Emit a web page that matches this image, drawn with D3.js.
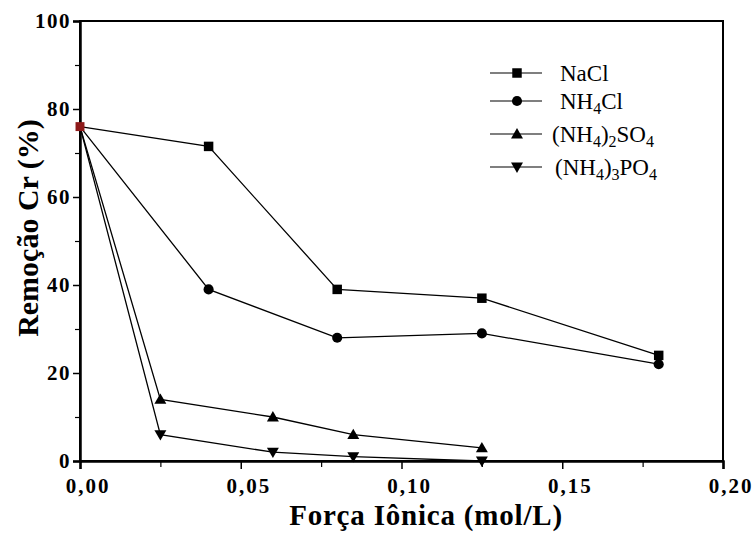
<!DOCTYPE html>
<html>
<head>
<meta charset="utf-8">
<script src="https://cdn.jsdelivr.net/npm/d3@7"></script>
<style>
  html, body { margin: 0; padding: 0; background: #fff; }
  svg { display: block; }
  svg text { font-family: "Times New Roman", "Liberation Serif", Tinos, "Nimbus Roman", Times, serif; fill: #000; }
</style>
</head>
<body>
<svg id="chart" width="754" height="539"></svg>
<script>
// Ionic strength (mol/L) for each salt
const xNaCl   = [0, 0.04, 0.08, 0.125, 0.18];
const xNH4Cl  = [0, 0.04, 0.08, 0.125, 0.18];
const xSulf   = [0, 0.025, 0.06, 0.085, 0.125];
const xPhos   = [0, 0.025, 0.06, 0.085, 0.125];

// Cr removal (%)
const yNaCl   = [76, 71.5, 39, 37, 24];
const yNH4Cl  = [76, 39, 28, 29, 22];
const ySulf   = [76, 14, 10, 6, 3];
const yPhos   = [76, 6, 2, 1, 0];

const xTicks = [0, 0.05, 0.10, 0.15, 0.20];
const xTickLabels = ["0,00", "0,05", "0,10", "0,15", "0,20"];
const yTicks = [0, 20, 40, 60, 80, 100];

const series = [
  { xs: xNaCl,  ys: yNaCl,  symbol: "square",  parts: [["NaCl", 0]] },
  { xs: xNH4Cl, ys: yNH4Cl, symbol: "circle",  parts: [["NH", 0], ["4", 1], ["Cl", 0]] },
  { xs: xSulf,  ys: ySulf,  symbol: "up",      parts: [["(NH", 0], ["4", 1], [")", 0], ["2", 1], ["SO", 0], ["4", 1]] },
  { xs: xPhos,  ys: yPhos,  symbol: "down",    parts: [["(NH", 0], ["4", 1], [")", 0], ["3", 1], ["PO", 0], ["4", 1]] }
];

const svg = d3.select("#chart");
const L = 80, R = 723, T = 21, B = 461;

const x = d3.scaleLinear().domain([0, 0.20]).range([L, R]);
const y = d3.scaleLinear().domain([0, 100]).range([B, T]);

function symbolPath(kind) {
  if (kind === "square") return d3.symbol(d3.symbolSquare, 90)();
  if (kind === "circle") return d3.symbol(d3.symbolCircle, 80)();
  return d3.symbol(d3.symbolTriangle, 62)();
}
function symbolTransform(kind, px, py) {
  if (kind === "up") return `translate(${px},${py + 1})`;
  if (kind === "down") return `translate(${px},${py - 1}) rotate(180)`;
  return `translate(${px},${py})`;
}

// Frame
svg.append("rect")
  .attr("x", L).attr("y", T).attr("width", R - L).attr("height", B - T)
  .attr("fill", "none").attr("stroke", "#000").attr("stroke-width", 2);

// Bottom axis: major ticks every 0.05, minor every 0.025
const xAxis = d3.axisBottom(x).tickValues(xTicks).tickSize(8).tickFormat("");
const gx = svg.append("g").attr("transform", `translate(0,${B})`).call(xAxis);
gx.select(".domain").attr("stroke-width", 2.5);
gx.selectAll(".tick line").attr("stroke-width", 1.5);
const xMinor = d3.axisBottom(x).tickValues(d3.range(0.025, 0.2, 0.05)).tickSize(6).tickFormat("");
const gxm = svg.append("g").attr("transform", `translate(0,${B})`).call(xMinor);
gxm.select(".domain").remove();
gxm.selectAll(".tick line").attr("stroke-width", 1.2);

svg.append("g").selectAll("text").data(xTicks).join("text")
  .attr("x", (d) => x(d) + 8).attr("y", 493)
  .attr("text-anchor", "middle")
  .attr("font-size", 21).attr("font-weight", "bold").attr("letter-spacing", 2)
  .text((d, i) => xTickLabels[i]);

// Left axis: major ticks every 20, minor every 10
const yAxis = d3.axisLeft(y).tickValues(yTicks).tickSize(7).tickFormat("");
const gy = svg.append("g").attr("transform", `translate(${L},0)`).call(yAxis);
gy.select(".domain").attr("stroke-width", 2.5);
gy.selectAll(".tick line").attr("stroke-width", 1.5);
const yMinor = d3.axisLeft(y).tickValues(d3.range(10, 100, 20)).tickSize(5).tickFormat("");
const gym = svg.append("g").attr("transform", `translate(${L},0)`).call(yMinor);
gym.select(".domain").remove();
gym.selectAll(".tick line").attr("stroke-width", 1.2);

svg.append("g").selectAll("text").data(yTicks).join("text")
  .attr("x", 71).attr("y", (d) => y(d) + 7)
  .attr("text-anchor", "end")
  .attr("font-size", 21).attr("font-weight", "bold").attr("letter-spacing", 1.5)
  .text((d) => d);

// Axis titles
svg.append("text")
  .attr("x", 426).attr("y", 525)
  .attr("text-anchor", "middle")
  .attr("font-size", 29).attr("font-weight", "bold").attr("letter-spacing", 0.8)
  .text("Força Iônica (mol/L)");

svg.append("text")
  .attr("transform", "translate(38,228) rotate(-90)")
  .attr("text-anchor", "middle")
  .attr("font-size", 30).attr("font-weight", "bold")
  .text("Remoção Cr (%)");

// Series lines and markers
const line = d3.line().x((d) => x(d[0])).y((d) => y(d[1]));
series.forEach((s) => {
  const pts = s.xs.map((v, i) => [v, s.ys[i]]);
  svg.append("path").datum(pts)
    .attr("d", line).attr("fill", "none")
    .attr("stroke", "#000").attr("stroke-width", 1.3);
  svg.append("g").selectAll("path").data(pts.slice(1)).join("path")
    .attr("d", symbolPath(s.symbol))
    .attr("transform", (d) => symbolTransform(s.symbol, x(d[0]), y(d[1])))
    .attr("fill", "#000");
});

// Shared starting point, drawn on top
svg.append("path")
  .attr("d", d3.symbol(d3.symbolSquare, 80)())
  .attr("transform", `translate(${x(xNaCl[0])},${y(yNaCl[0])})`)
  .attr("fill", "#8e1a1a");

// Legend
const legendRows = [73, 101, 134, 167];
const legendTextX = [560, 560, 552, 555];
const lg = svg.append("g");
series.forEach((s, i) => {
  const ly = legendRows[i];
  lg.append("line")
    .attr("x1", 490).attr("x2", 542).attr("y1", ly).attr("y2", ly)
    .attr("stroke", "#000").attr("stroke-width", 1.1);
  lg.append("path")
    .attr("d", symbolPath(s.symbol))
    .attr("transform", symbolTransform(s.symbol, 517, ly));
  const t = lg.append("text")
    .attr("x", legendTextX[i]).attr("y", ly + 8)
    .attr("font-size", 23);
  // subscripts drop 5px, following text returns to the baseline
  s.parts.forEach(([str, sub], j) => {
    const prevSub = j > 0 && s.parts[j - 1][1];
    const ts = t.append("tspan").text(str)
      .attr("dy", sub && !prevSub ? 5 : (!sub && prevSub ? -5 : 0));
    if (sub) ts.attr("font-size", 16);
  });
});
</script>
</body>
</html>
